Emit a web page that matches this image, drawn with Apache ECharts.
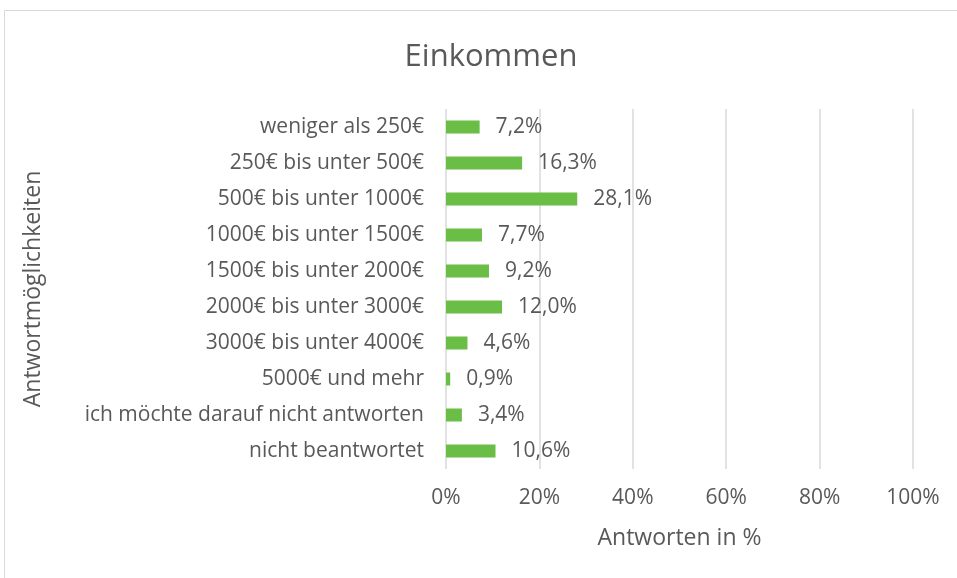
<!DOCTYPE html>
<html>
<head>
<meta charset="utf-8">
<script src="https://cdn.jsdelivr.net/npm/echarts@6/dist/echarts.min.js"></script>
<style>
  html, body { margin: 0; padding: 0; background: #fff; }
  #chart { width: 957px; height: 578px; }
</style>
</head>
<body>
<div id="chart"></div>
<script>
// Antwortmöglichkeiten (von oben nach unten)
const categories = [
    'weniger als 250€',
    '250€ bis unter 500€',
    '500€ bis unter 1000€',
    '1000€ bis unter 1500€',
    '1500€ bis unter 2000€',
    '2000€ bis unter 3000€',
    '3000€ bis unter 4000€',
    '5000€ und mehr',
    'ich möchte darauf nicht antworten',
    'nicht beantwortet'
];
// Antworten in %
const values = [7.2, 16.3, 28.1, 7.7, 9.2, 12.0, 4.6, 0.9, 3.4, 10.6];
const xTicks = [0, 20, 40, 60, 80, 100];

const textColor = '#595959';
const fontFamily = '"Open Sans", "Noto Sans", sans-serif';

let chart = echarts.init(document.getElementById('chart'));
let option = {
    backgroundColor: '#ffffff',
    textStyle: { fontFamily: fontFamily, color: textColor },
    title: {
        text: 'Einkommen',
        left: 486,
        top: 37,
        textAlign: 'center',
        textStyle: { fontSize: 31, fontWeight: 'normal', color: textColor, fontFamily: fontFamily }
    },
    graphic: [{
        type: 'rect',
        shape: { x: 4.5, y: 10.5, width: 1000, height: 1000 },
        style: { fill: 'none', stroke: '#d9d9d9', lineWidth: 1 },
        silent: true
    }],
    grid: { left: 446, right: 44, top: 109, bottom: 109, containLabel: false },
    xAxis: {
        type: 'value',
        min: xTicks[0],
        max: xTicks[xTicks.length - 1],
        interval: 20,
        axisLine: { show: false },
        axisTick: { show: false },
        splitLine: { show: true, lineStyle: { color: '#d9d9d9', width: 1.5 } },
        axisLabel: {
            formatter: (v) => v + '%',
            color: textColor,
            fontSize: 21,
            margin: 19
        },
        name: 'Antworten in %',
        nameLocation: 'middle',
        nameGap: 58,
        nameTextStyle: { fontSize: 23, color: textColor }
    },
    yAxis: {
        type: 'category',
        data: categories,
        inverse: true,
        axisLine: { show: false },
        axisTick: { show: false },
        axisLabel: { color: textColor, fontSize: 21, margin: 22 },
        name: 'Antwortmöglichkeiten',
        nameLocation: 'middle',
        nameGap: 401,
        nameRotate: 90,
        nameTextStyle: { fontSize: 23, color: textColor }
    },
    series: [{
        type: 'bar',
        data: values,
        barWidth: 13,
        itemStyle: { color: '#6abd45' },
        label: {
            show: true,
            position: 'right',
            distance: 16,
            color: textColor,
            fontSize: 21,
            formatter: (p) => p.value.toFixed(1).replace('.', ',') + '%'
        },
        silent: true
    }]
};
chart.setOption(option);
</script>
</body>
</html>
